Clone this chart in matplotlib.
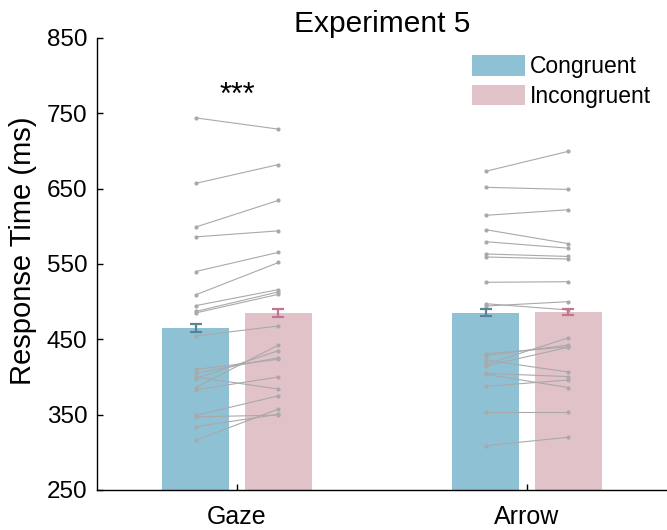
import matplotlib
matplotlib.use("Agg")
import matplotlib.pyplot as plt
from matplotlib.patches import Patch

plt.rcParams['font.family'] = ['Liberation Sans', 'DejaVu Sans']

groups = ["Gaze", "Arrow"]
conditions = ["Congruent", "Incongruent"]

gaze_congruent = [744, 657, 599, 586, 540, 509, 494.7, 487, 485, 454.4,
                  410, 405, 400, 398, 386, 383, 349, 347, 334, 316]
gaze_incongruent = [729, 682, 634.5, 594, 565.5, 552, 516, 513, 509.8, 467.7,
                    423.5, 425.6, 384, 435, 442.5, 400, 375, 349.5, 350.5, 357.5]
arrow_congruent = [673, 651.8, 614.6, 595.6, 579.6, 563.3, 559.3, 525.7, 497.3, 494.2,
                   430.9, 428.2, 422.5, 416.8, 414.6, 404.9, 403.6, 387.6, 354, 308.8]
arrow_incongruent = [699.6, 649, 622, 577, 571, 560, 556.6, 526.5, 489, 500,
                     440, 442.5, 406.6, 452, 439.5, 400.5, 386, 396, 354, 320]

mean_congruent = [464.5, 485.5]
mean_incongruent = [485.5, 486.0]
sem_congruent = [5.3, 4.9]
sem_incongruent = [5.3, 4.3]

significance = ["***", ""]

col_c = "#8FC1D4"
col_i = "#E2C2C9"
err_c = "#5A8496"
err_i = "#C27590"
line_col = "#A9A9A9"

fig = plt.figure(figsize=(6.67, 5.30), dpi=100)
ax = fig.add_axes([97/667, 1 - 490/530, 1 - 97/667, (490-38)/530])

x = [1, 2]
off = 0.143
w = 0.232
subj = [(gaze_congruent, gaze_incongruent), (arrow_congruent, arrow_incongruent)]

for i, xc in enumerate(x):
    ax.bar(xc - off, mean_congruent[i], width=w, color=col_c, zorder=1)
    ax.bar(xc + off, mean_incongruent[i], width=w, color=col_i, zorder=1)
    ax.errorbar(xc - off, mean_congruent[i], yerr=sem_congruent[i], fmt='none',
                ecolor=err_c, elinewidth=1.6, capsize=4, capthick=1.6, zorder=3)
    ax.errorbar(xc + off, mean_incongruent[i], yerr=sem_incongruent[i], fmt='none',
                ecolor=err_i, elinewidth=1.6, capsize=4, capthick=1.6, zorder=3)
    c_vals, i_vals = subj[i]
    for a, b in zip(c_vals, i_vals):
        ax.plot([xc - off, xc + off], [a, b], color=line_col, lw=0.8,
                marker='o', markersize=2, zorder=2)
    if significance[i]:
        ax.text(xc, 762, significance[i], ha='center', va='baseline', fontsize=22)

ax.set_ylim(250, 850)
ax.set_xlim(0.517, 2.483)
ax.set_yticks([250, 350, 450, 550, 650, 750, 850])
ax.set_xticks(x)
ax.set_xticklabels(groups)
ax.tick_params(axis='both', direction='in', length=4, width=1)
ax.tick_params(axis='y', labelsize=17.5, pad=7)
ax.tick_params(axis='x', labelsize=18, pad=11)
for s in ['top', 'right']:
    ax.spines[s].set_visible(False)
for s in ['left', 'bottom']:
    ax.spines[s].set_linewidth(1)
ax.set_ylabel("Response Time (ms)", fontsize=21)
ax.yaxis.set_label_coords(-0.105, 0.53)
ax.set_title("Experiment 5", fontsize=21.5, pad=3)

handles = [Patch(facecolor=col_c, label=conditions[0]),
           Patch(facecolor=col_i, label=conditions[1])]
fig.legend(handles=handles, loc='upper left', bbox_to_anchor=(472/667, 1 - 55/530),
           frameon=False, fontsize=16.5, handlelength=2.31, handleheight=1.0,
           handletextpad=0.22, labelspacing=0.3, borderpad=0, borderaxespad=0)

fig.savefig("out.png", dpi=100)
